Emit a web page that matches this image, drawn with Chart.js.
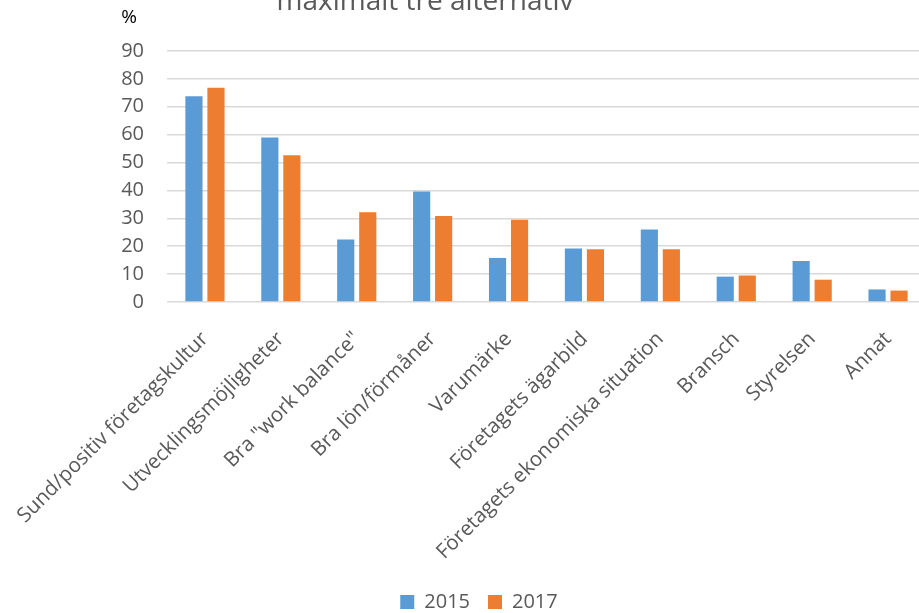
<!DOCTYPE html>
<html>
<head>
<meta charset="utf-8">
<script src="https://cdn.jsdelivr.net/npm/chart.js@4"></script>
<style>
  html, body { margin: 0; padding: 0; background: #fff; overflow: hidden; }
  #wrap { width: 926px; height: 613px; overflow: hidden; }
</style>
</head>
<body>
<div id="wrap"><canvas id="chart" width="926" height="622"></canvas></div>
<script>
// Values (percent)
const categories = [
    'Sund/positiv företagskultur',
    'Utvecklingsmöjligheter',
    'Bra "work balance"',
    'Bra lön/förmåner',
    'Varumärke',
    'Företagets ägarbild',
    'Företagets ekonomiska situation',
    'Bransch',
    'Styrelsen',
    'Annat'
];
const values2015 = [73.8, 59.0, 22.4, 39.6, 15.8, 19.2, 26.0, 9.1, 14.7, 4.5];
const values2017 = [76.8, 52.6, 32.2, 30.8, 29.5, 18.9, 18.9, 9.5, 8.0, 4.1];
const seriesLabels = ['2015', '2017'];
const titleText = 'maximalt tre alternativ';
const unitLabel = '%';

const textGrey = '#595959';
const gridGrey = '#d9d9d9';

// Title (cut at the top in the reference) and the unit label above the y axis
const headerText = {
    id: 'headerText',
    afterDraw(chart) {
        const ctx = chart.ctx;
        ctx.save();
        ctx.fillStyle = textGrey;
        ctx.font = '28px "Open Sans"';
        ctx.textAlign = 'center';
        ctx.textBaseline = 'alphabetic';
        ctx.fillText(titleText, 425, 10);
        ctx.fillStyle = '#000';
        ctx.font = '19px "Open Sans"';
        ctx.textBaseline = 'middle';
        ctx.fillText(unitLabel, 129, 18);
        ctx.restore();
    }
};

new Chart(document.getElementById('chart').getContext('2d'), {
    type: 'bar',
    data: {
        labels: categories,
        datasets: [
            {
                label: seriesLabels[0],
                data: values2015,
                backgroundColor: '#5B9BD5',
                borderWidth: 0,
                categoryPercentage: 0.58,
                barPercentage: 0.78
            },
            {
                label: seriesLabels[1],
                data: values2017,
                backgroundColor: '#ED7D31',
                borderWidth: 0,
                categoryPercentage: 0.58,
                barPercentage: 0.78
            }
        ]
    },
    options: {
        responsive: false,
        animation: false,
        devicePixelRatio: 1,
        layout: {
            padding: { left: 32, top: 51, right: 0, bottom: 0 }
        },
        plugins: {
            title: { display: false },
            tooltip: { enabled: false },
            legend: {
                position: 'bottom',
                labels: {
                    boxWidth: 14,
                    boxHeight: 14,
                    padding: 18,
                    color: textGrey,
                    font: { family: 'Open Sans', size: 20 }
                }
            }
        },
        scales: {
            x: {
                grid: { display: false, drawTicks: false },
                border: { display: false },
                ticks: {
                    color: textGrey,
                    font: { family: 'Open Sans', size: 20.5 },
                    minRotation: 45,
                    maxRotation: 45,
                    autoSkip: false,
                    padding: 25
                },
                afterFit(scale) {
                    scale.height = 272;
                    scale.paddingLeft = 0;
                    scale.paddingRight = 0;
                }
            },
            y: {
                min: 0,
                max: 90,
                ticks: {
                    stepSize: 10,
                    color: textGrey,
                    font: { family: 'Open Sans', size: 20 },
                    padding: 23
                },
                grid: { color: gridGrey, lineWidth: 1.5, drawTicks: false },
                border: { display: false },
                afterFit(scale) { scale.width = 135; }
            }
        }
    },
    plugins: [headerText]
});
</script>
</body>
</html>
